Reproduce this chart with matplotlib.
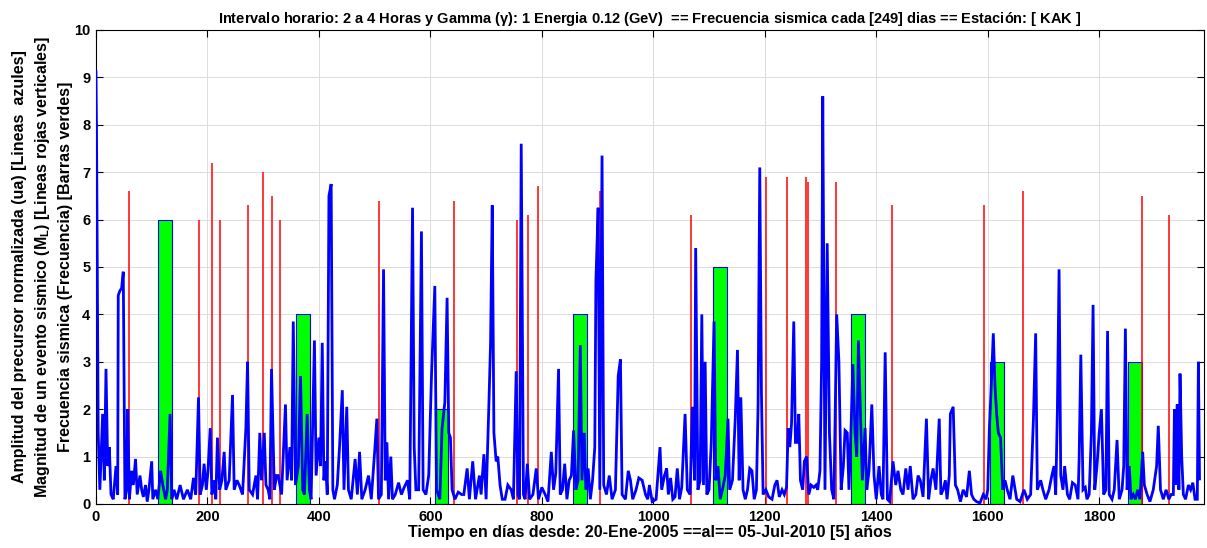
import matplotlib
matplotlib.use('Agg')
from matplotlib import pyplot as plt

plt.rcParams['font.family'] = ['Liberation Sans', 'DejaVu Sans']
plt.rcParams['mathtext.default'] = 'regular'

# barras verdes: frecuencia sismica cada 249 dias
bar_day = [124, 372, 620, 869, 1119, 1368, 1616, 1864]
bar_freq = [6, 4, 2, 4, 5, 4, 3, 3]

# lineas rojas: magnitud de eventos sismicos
quake_day = [59, 184, 208, 223, 272, 299, 316, 331, 508, 642, 756, 776, 793, 905,
             1068, 1203, 1240, 1274, 1278, 1327, 1428, 1594, 1663, 1876, 1926]
quake_mag = [6.6, 6.0, 7.2, 6.0, 6.3, 7.0, 6.5, 6.0, 6.4, 6.4, 6.0, 6.1, 6.7, 6.6,
             6.1, 6.9, 6.9, 6.9, 6.8, 6.8, 6.3, 6.3, 6.6, 6.5, 6.1]

# linea azul: amplitud del precursor (dia, valor)
blue_pts = [
    (0, 9.15), (1, 7.9), (4, 1.5), (7, 0.3), (12, 1.9), (15, 0.5), (18, 2.85), (21, 0.8),
    (24, 1.2), (27, 0.2), (31, 0.1), (36, 0.8), (39, 0.2), (40, 4.4), (43, 4.5), (46, 4.55),
    (49, 4.9), (52, 0.1), (55, 0.3), (57, 2.0), (60, 0.1), (64, 0.7), (67, 0.4), (71, 0.95),
    (74, 0.2), (79, 0.6), (82, 0.3), (85, 0.15), (89, 0.4), (92, 0.05), (95, 0.3), (100, 0.9),
    (102, 0.1), (107, 0.3), (111, 0.1), (116, 0.7), (120, 0.4), (125, 0.1), (128, 0.3),
    (133, 1.9), (136, 0.1), (140, 0.3), (145, 0.1), (151, 0.4), (157, 0.1), (164, 0.3),
    (170, 0.1), (175, 0.55), (179, 0.2), (184, 2.25), (187, 0.2), (191, 0.4), (194, 0.85),
    (198, 0.3), (201, 0.7), (205, 1.6), (208, 0.2), (212, 0.5), (215, 0.1), (218, 1.4),
    (222, 0.3), (226, 0.5), (230, 1.1), (233, 0.3), (239, 0.5), (245, 2.3), (248, 0.3),
    (253, 0.5), (257, 0.4), (263, 0.2), (269, 1.6), (272, 3.0), (275, 0.3), (281, 0.2),
    (287, 0.6), (290, 0.1), (294, 1.5), (297, 0.5), (302, 1.5), (305, 0.4), (309, 0.3),
    (312, 0.1), (315, 2.85), (320, 0.3), (324, 0.6),
    (327, 0.6), (333, 0.2), (340, 2.1), (343, 0.5), (348, 1.2), (351, 0.5), (354, 3.85),
    (358, 0.4), (363, 0.8), (367, 2.7), (371, 0.3), (374, 0.2), (379, 1.9), (383, 0.3),
    (386, 0.1), (392, 3.45), (395, 0.6), (400, 1.4), (403, 0.8), (406, 3.4), (409, 0.5),
    (412, 0.9), (415, 0.2), (418, 6.5), (422, 6.75), (425, 0.3), (428, 0.1), (433, 0.4),
    (437, 1.2), (442, 2.4), (445, 0.3), (450, 2.05), (453, 0.3), (458, 0.1), (465, 0.95),
    (469, 0.2), (473, 1.1), (477, 0.1), (483, 0.3), (489, 0.6), (494, 0.1), (500, 1.1),
    (504, 1.8), (507, 0.1), (512, 0.2), (516, 4.95), (519, 0.5), (522, 1.3), (525, 0.1),
    (529, 1.0), (532, 0.1), (537, 0.2), (543, 0.45), (548, 0.2), (553, 0.35), (559, 0.5),
    (563, 0.1), (568, 6.25), (571, 1.2), (574, 0.3), (579, 0.3), (584, 5.75), (587, 0.3),
    (592, 0.2), (597, 0.6), (602, 2.7), (608, 4.6), (611, 0.3), (617, 0.1), (621, 1.6),
    (626, 2.15), (630, 4.35), (633, 1.5), (636, 1.4), (639, 0.3), (644, 0.1), (650, 0.25),
    (656, 0.2),
    (660, 0.2), (666, 0.75), (670, 0.1), (676, 0.9), (681, 0.1), (688, 0.6), (691, 0.2),
    (696, 1.05), (700, 0.1), (705, 2.1), (708, 3.4), (711, 6.3), (714, 1.5), (718, 0.9),
    (721, 1.0), (725, 0.4), (729, 0.1), (734, 0.1), (739, 0.4), (745, 0.3), (749, 0.1),
    (754, 2.8), (757, 0.2), (760, 0.1), (763, 7.6), (767, 0.2), (770, 0.1), (774, 0.85),
    (778, 0.1), (784, 0.2), (790, 0.75), (794, 0.1), (800, 0.35), (806, 0.2), (811, 0.05),
    (817, 1.1), (821, 0.3), (825, 0.65), (830, 2.85), (833, 0.2), (837, 0.3), (841, 0.85),
    (845, 0.1), (849, 0.5), (853, 0.6), (857, 1.55), (861, 0.3), (865, 0.5), (869, 3.35),
    (872, 0.5), (876, 1.5), (879, 0.3), (883, 0.75), (887, 0.1), (891, 0.5), (895, 1.2),
    (897, 4.7), (901, 6.25), (904, 0.3), (908, 7.35), (911, 0.4), (916, 0.2), (921, 0.6),
    (926, 0.1), (932, 0.3), (937, 2.7), (941, 3.05), (944, 0.2), (950, 0.1), (955, 0.7),
    (959, 0.5), (963, 0.1), (969, 0.3), (974, 0.55), (980, 0.5), (986, 0.2),
    (990, 0.1), (993, 0.4), (998, 0.05), (1005, 0.1), (1012, 1.2), (1015, 0.3), (1020, 0.6),
    (1024, 0.75), (1027, 0.2), (1031, 0.55), (1035, 0.1), (1039, 0.15), (1043, 0.75),
    (1047, 0.1), (1051, 0.35), (1057, 1.9), (1061, 0.3), (1066, 0.2), (1070, 2.05),
    (1074, 0.5), (1076, 5.4), (1080, 0.3), (1084, 0.5), (1087, 4.0), (1090, 0.4), (1093, 3.0),
    (1096, 0.2), (1100, 0.3), (1104, 1.3), (1109, 3.85), (1112, 0.5), (1116, 0.8), (1120, 0.1),
    (1124, 0.3), (1129, 0.6), (1134, 1.8), (1137, 0.3), (1142, 0.5), (1147, 1.8), (1151, 3.25),
    (1154, 0.5), (1157, 2.25), (1161, 0.3), (1165, 0.1), (1169, 0.3), (1173, 0.75), (1177, 0.7),
    (1181, 0.1), (1185, 0.3), (1188, 2.1), (1191, 7.1), (1194, 2.35), (1197, 0.2), (1202, 0.3),
    (1207, 0.15), (1213, 0.1), (1218, 0.4), (1222, 0.5), (1226, 0.15), (1231, 0.3), (1235, 0.2),
    (1239, 0.35), (1242, 1.6), (1245, 1.2), (1248, 1.7), (1252, 3.85), (1255, 1.3), (1258, 1.3),
    (1261, 1.9), (1264, 0.5), (1268, 0.3), (1271, 0.9), (1275, 1.0), (1279, 0.2), (1283, 0.4),
    (1288, 0.35), (1292, 0.4), (1295, 0.3), (1299, 0.7), (1302, 3.0), (1304, 8.6), (1308, 0.3),
    (1312, 5.5), (1316, 1.5),
    (1320, 0.3), (1324, 0.1), (1329, 4.0), (1333, 3.0), (1337, 0.3), (1341, 0.8), (1344, 1.55),
    (1348, 1.5), (1351, 0.3), (1355, 1.7), (1358, 2.95), (1362, 1.5), (1365, 1.0), (1368, 3.45),
    (1372, 1.8), (1375, 0.5), (1380, 1.6), (1383, 0.3), (1387, 0.7), (1392, 2.1), (1396, 0.6),
    (1400, 0.1), (1405, 0.8), (1409, 0.2), (1412, 0.1), (1416, 3.2), (1420, 0.1), (1424, 0.05),
    (1430, 0.9), (1435, 0.4), (1439, 0.7), (1444, 0.3), (1448, 0.2), (1453, 0.75), (1457, 0.3),
    (1461, 0.8), (1466, 0.1), (1471, 0.2), (1475, 0.6), (1479, 0.5), (1484, 0.15), (1490, 1.8),
    (1494, 0.1), (1498, 0.5), (1502, 0.75), (1507, 0.3), (1513, 1.8), (1516, 0.2), (1520, 0.3),
    (1524, 0.5), (1527, 0.1), (1531, 0.6), (1533, 1.9), (1538, 2.05), (1542, 0.4), (1546, 0.3),
    (1551, 0.05), (1556, 0.3), (1562, 0.15), (1567, 0.7), (1571, 0.2), (1575, 0.1), (1580, 0.05),
    (1586, 0.02), (1592, 0.2), (1597, 0.1), (1600, 0.3), (1603, 1.6), (1606, 2.4), (1610, 3.6),
    (1613, 2.5), (1616, 1.9), (1619, 1.5), (1623, 1.4), (1627, 0.3), (1631, 0.5), (1635, 0.3),
    (1640, 0.1), (1645, 0.6),
    (1652, 0.1), (1658, 0.05), (1665, 0.3), (1671, 0.1), (1677, 0.2), (1682, 1.8), (1686, 3.6),
    (1689, 0.3), (1695, 0.5), (1699, 0.3), (1704, 0.1), (1710, 0.3), (1715, 0.6), (1719, 0.8),
    (1722, 0.2), (1725, 2.0), (1728, 4.95), (1731, 0.6), (1735, 0.3), (1738, 0.8), (1743, 0.2),
    (1747, 0.1), (1752, 0.45), (1757, 0.4), (1762, 0.1), (1764, 0.95), (1767, 3.15), (1771, 0.3),
    (1775, 0.35), (1778, 0.1), (1782, 0.2), (1786, 1.5), (1789, 4.2), (1792, 0.3), (1796, 0.8),
    (1800, 1.5), (1804, 2.0), (1808, 0.2), (1812, 0.3), (1815, 3.65), (1818, 0.2), (1823, 0.1),
    (1827, 0.3), (1832, 1.35), (1836, 0.1), (1841, 0.3), (1844, 0.8), (1847, 3.7), (1850, 0.3),
    (1854, 0.8), (1857, 0.1), (1861, 0.2), (1865, 0.1), (1869, 0.3), (1873, 0.1), (1878, 1.1),
    (1881, 0.4), (1886, 0.2), (1891, 0.05), (1897, 0.3), (1903, 0.8), (1906, 1.65), (1910, 0.3),
    (1915, 0.1), (1920, 0.3), (1925, 0.1), (1929, 0.2), (1933, 0.2), (1935, 2.0), (1938, 0.4),
    (1940, 2.1), (1943, 0.3), (1945, 2.75), (1948, 1.0), (1951, 0.2), (1955, 0.1), (1960, 0.4),
    (1964, 0.3), (1968, 0.45), (1972, 0.1), (1976, 0.1), (1978, 3.0), (1980, 0.5),
]
blue_day = [p[0] for p in blue_pts]
blue_val = [p[1] for p in blue_pts]

fig = plt.figure(figsize=(12.07, 5.48), dpi=100)
ax = fig.add_axes([0.0795, 0.0803, 0.918, 0.865])

ax.bar(bar_day, bar_freq, width=25, color='#00ff00', edgecolor='b', linewidth=0.8, zorder=2)
ax.vlines(quake_day, 0, quake_mag, colors='r', linewidth=1.1, zorder=3)
ax.plot(blue_day, blue_val, color='b', linewidth=2.0, zorder=4,
        solid_joinstyle='miter', solid_capstyle='butt')

ax.set_xlim(0, 1988)
ax.set_ylim(0, 10)
ax.set_xticks(range(0, 2000, 200))
ax.set_yticks(range(0, 11))
ax.grid(True, color='#dcdcdc', linewidth=0.7)
ax.set_axisbelow(True)
ax.tick_params(direction='in', top=True, right=True, length=5, labelsize=10.5, pad=4)
for lab in ax.get_xticklabels() + ax.get_yticklabels():
    lab.set_fontweight('bold')
for s in ax.spines.values():
    s.set_linewidth(0.8)

ax.set_title('Intervalo horario: 2 a 4 Horas y Gamma ($\\gamma$): 1 Energia 0.12 (GeV)  '
             '== Frecuencia sismica cada [249] dias == Estación: [ KAK ]',
             fontsize=10.5, fontweight='bold', pad=5)
ax.set_xlabel('Tiempo en días desde: 20-Ene-2005 ==al== 05-Jul-2010 [5] años',
              fontsize=11.5, fontweight='bold', labelpad=1)
ax.set_ylabel('Amplitud del precursor normalizada (ua) [Lineas  azules]\n'
              'Magnitud de un evento sismico (M$_L$) [Lineas rojas verticales]\n'
              'Frecuencia sismica (Frecuencia) [Barras verdes]',
              fontsize=11.5, fontweight='bold', multialignment='center', linespacing=1.45,
              labelpad=1)

fig.savefig('out.png', dpi=100)
